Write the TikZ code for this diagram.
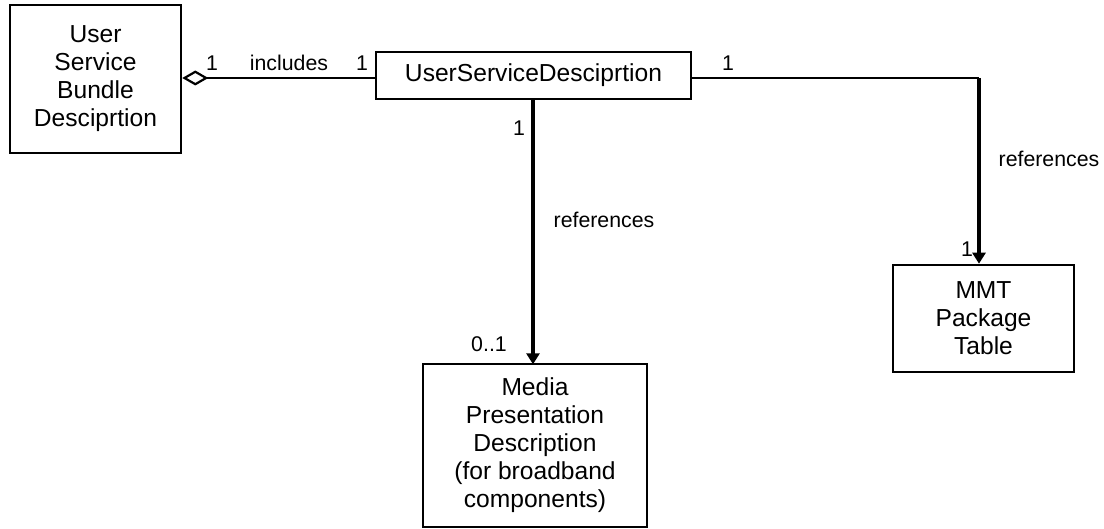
\documentclass[tikz,border=0pt]{standalone}
\usepackage{fontspec}
\setmainfont{Liberation Sans}
\usetikzlibrary{arrows.meta}
\begin{document}
\begin{tikzpicture}[x=1pt,y=-1pt,
  box/.style={draw,line width=2.6pt,inner sep=0pt,align=center,
    font=\fontsize{24.6}{28}\selectfont},
  lbl/.style={font=\fontsize{21.3}{24}\selectfont,inner sep=0pt},
  thin/.style={line width=2.2pt},
  thick/.style={line width=4.5pt,-{Triangle[length=11pt,width=13pt]}}]
\useasboundingbox (0,0) rectangle (1104,529);
\node[box,minimum width=171pt,minimum height=148pt] (usbd) at (95.5,79) {User\\Service\\Bundle\\Desciprtion};
\node[box,minimum width=315pt,minimum height=47pt] (usd) at (533.5,75.5) {UserServiceDesciprtion};
\node[box,minimum width=181pt,minimum height=107pt] (mmt) at (983.5,318.5) {MMT\\Package\\Table};
\node[box,minimum width=224pt,minimum height=163pt] (mpd) at (535,445.5) {Media\\Presentation\\Description\\(for broadband\\components)};
\coordinate (corner) at (979,78);
\draw[thin,{Diamond[open,length=26pt,width=15pt,line width=2.2pt]}-] (usbd.east |- 0,78) -- (usd.west |- 0,78);
\draw[thin] (usd.east |- corner) -- (corner);
\draw[thick] (corner) -- (corner |- mmt.north);
\draw[thick] (533,99) -- (533,364.3);
\node[lbl] (m1) at (212,63) {1};
\node[lbl] (inc) at (289,63) {includes};
\node[lbl] (m2) at (362,63) {1};
\node[lbl] (m3) at (728,63) {1};
\node[lbl] (m4) at (519,128) {1};
\node[lbl] (ref1) at (604,220) {references};
\node[lbl] (ref2) at (1049,159) {references};
\node[lbl] (m5) at (967,249) {1};
\node[lbl] (m6) at (489,344) {0..1};
\end{tikzpicture}
\end{document}
